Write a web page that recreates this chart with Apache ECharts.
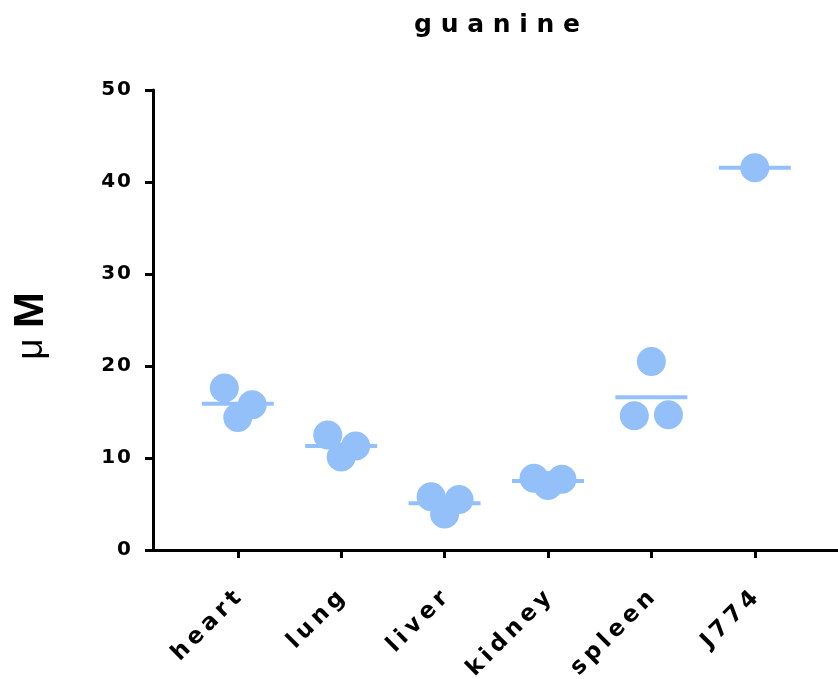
<!DOCTYPE html>
<html>
<head>
<meta charset="utf-8">
<script src="https://cdn.jsdelivr.net/npm/echarts@6/dist/echarts.min.js"></script>
<style>
	html, body { margin: 0; padding: 0; background: #fff; }
	#chart { width: 838px; height: 679px; }
</style>
</head>
<body>
<div id="chart"></div>
<script>
var categories = ['heart', 'lung', 'liver', 'kidney', 'spleen', 'J774'];
// replicate values read per tissue
var heartVals = [17.6, 15.8, 14.4];
var lungVals = [12.5, 11.3, 10.1];
var liverVals = [5.8, 5.5, 3.9];
var kidneyVals = [7.8, 7.7, 7.0];
var spleenVals = [20.5, 14.6, 14.7];
var j774Vals = [41.55];
// horizontal scatter of the dots (axis units)
var heartJitter = [-0.13, 0.14, 0];
var lungJitter = [-0.13, 0.14, 0];
var liverJitter = [-0.13, 0.14, 0];
var kidneyJitter = [-0.135, 0.135, 0];
var spleenJitter = [0, -0.165, 0.165];
var j774Jitter = [0];
var means = [15.9, 11.3, 5.07, 7.5, 16.6, 41.55];
var yTicks = [0, 10, 20, 30, 40, 50];

var allVals = [heartVals, lungVals, liverVals, kidneyVals, spleenVals, j774Vals];
var allJitter = [heartJitter, lungJitter, liverJitter, kidneyJitter, spleenJitter, j774Jitter];

var dotColor = '#93c0f8';
var font = 'DejaVu Sans, sans-serif';
var fontArial = 'Liberation Sans, Arial, sans-serif';

function spaced(s, sep) {
	return String(s).split('').join(sep);
}

var dots = [];
allVals.map(function(vals, i) {
	vals.map(function(v, k) {
		dots.push([i + allJitter[i][k], v]);
	});
});
var meanData = means.map(function(m, i) {
	return [i, m];
});

echarts.init(document.getElementById('chart')).setOption({
	animation: false,
	title: {
		text: spaced('guanine', ' '),
		left: 492,
		top: 8,
		textAlign: 'center',
		textStyle: {
			fontFamily: font,
			fontWeight: 'bold',
			fontSize: 25,
			color: '#000'
		}
	},
	grid: {
		left: 153,
		top: 90,
		right: 0,
		bottom: 129,
		containLabel: false,
		outerBoundsMode: 'none'
	},
	xAxis: {
		type: 'value',
		min: -0.82,
		max: 5.805,
		splitLine: { show: false },
		axisLine: { show: true, onZero: false, lineStyle: { color: '#000', width: 3 } },
		axisTick: {
			show: true,
			customValues: [0, 1, 2, 3, 4, 5],
			length: 8,
			lineStyle: { color: '#000', width: 3 }
		},
		axisLabel: {
			customValues: [0, 1, 2, 3, 4, 5],
			rotate: 45,
			margin: 45,
			fontFamily: font,
			fontWeight: 'bold',
			fontSize: 23,
			color: '#000',
			formatter: function(v) {
				return spaced(categories[Math.round(v)], '\u2009');
			}
		}
	},
	yAxis: {
		type: 'value',
		min: 0,
		max: 50,
		interval: 10,
		splitLine: { show: false },
		axisLine: { show: true, onZero: false, lineStyle: { color: '#000', width: 3 } },
		axisTick: { show: true, length: 8, lineStyle: { color: '#000', width: 3 } },
		axisLabel: {
			margin: 22,
			fontFamily: font,
			fontWeight: 'bold',
			fontSize: 20,
			color: '#000',
			formatter: function(v) {
				return yTicks.indexOf(v) > -1 ? spaced(v, '\u200a') : '';
			}
		},
		name: '{mu|\u03bc }{m|M}',
		nameLocation: 'middle',
		nameGap: 100,
		nameTextStyle: {
			padding: [0, 12, 0, 0],
			rich: {
				mu: { fontFamily: fontArial, fontSize: 37, color: '#000' },
				m: { fontFamily: fontArial, fontWeight: 'bold', fontSize: 43, color: '#000' }
			}
		}
	},
	series: [{
		type: 'scatter',
		data: meanData,
		symbol: 'rect',
		symbolSize: [72, 4],
		itemStyle: { color: dotColor, opacity: 1 },
		silent: true,
		z: 2
	}, {
		type: 'scatter',
		data: dots,
		symbol: 'circle',
		symbolSize: 29,
		itemStyle: { color: dotColor, opacity: 1 },
		silent: true,
		z: 3
	}]
});
</script>
</body>
</html>
